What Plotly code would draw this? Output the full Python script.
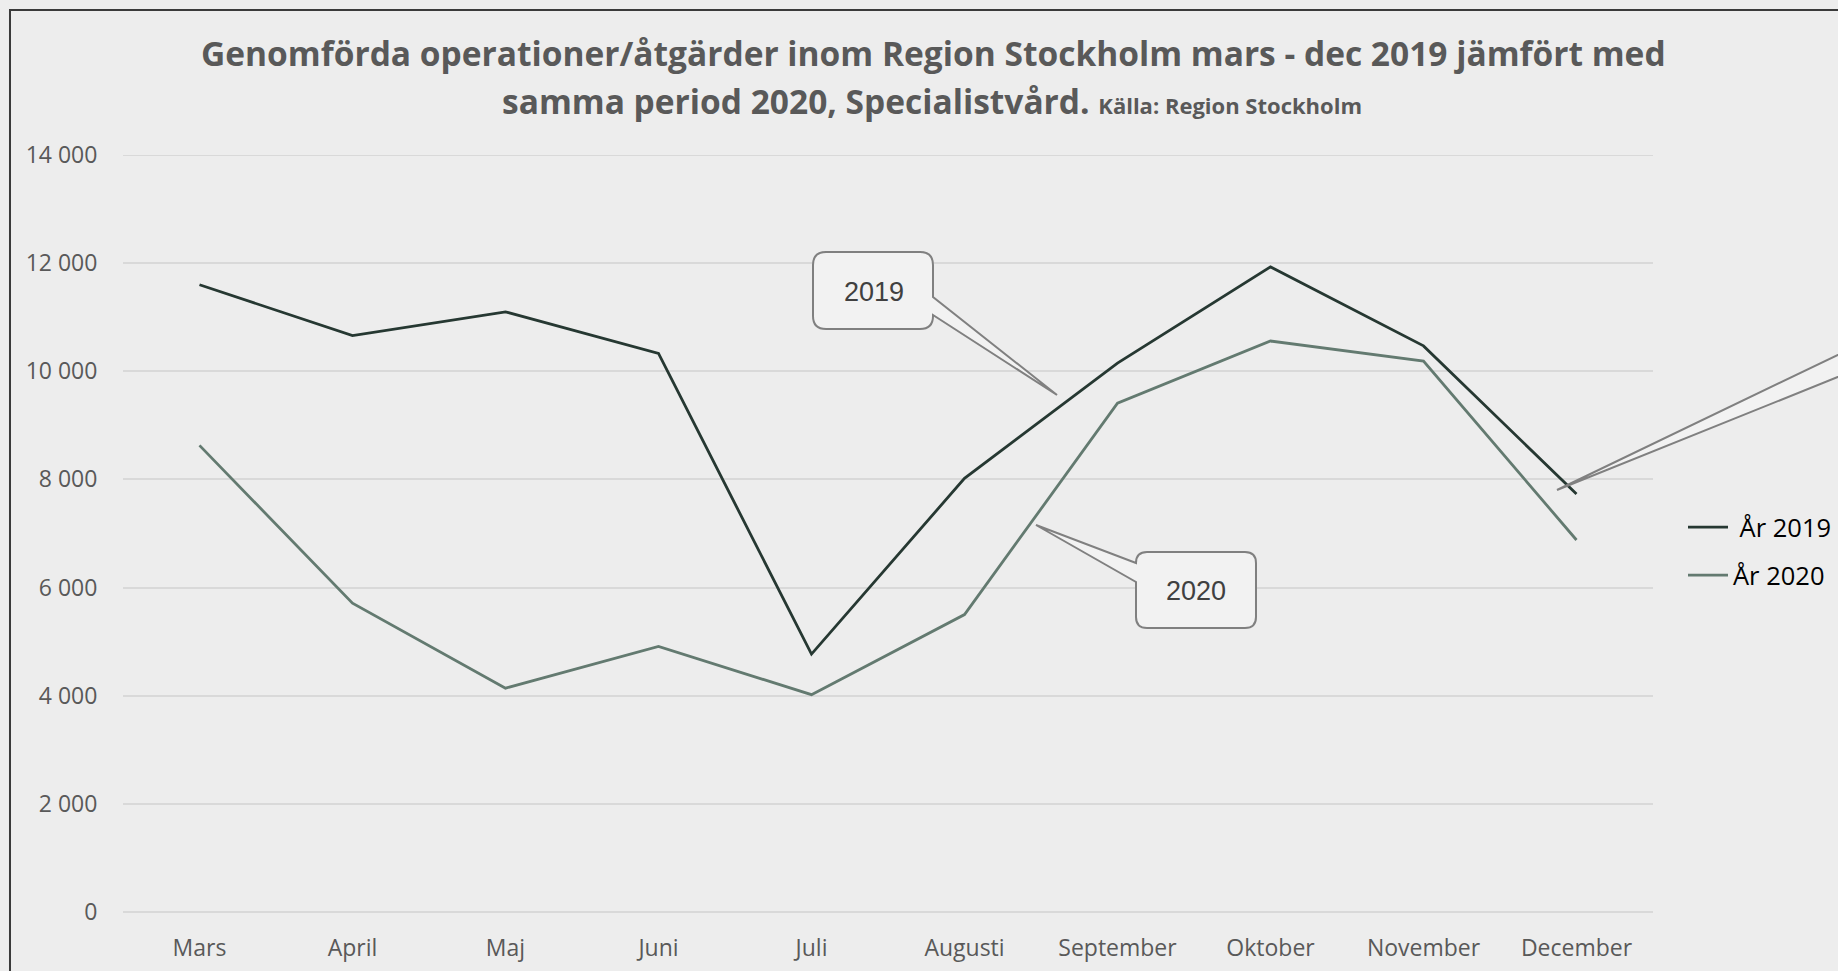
import plotly.graph_objects as go

# ---------------- data ----------------
months = ["Mars", "April", "Maj", "Juni", "Juli", "Augusti",
          "September", "Oktober", "November", "December"]
values_2019 = [11600, 10660, 11100, 10330, 4770, 8020, 10150, 11930, 10470, 7730]
values_2020 = [8630, 5710, 4140, 4910, 4020, 5500, 9410, 10560, 10190, 6880]
y_ticks = [0, 2000, 4000, 6000, 8000, 10000, 12000, 14000]
y_tick_text = ["0", "2 000", "4 000", "6 000", "8 000", "10 000", "12 000", "14 000"]

# ---------------- layout geometry ----------------
W, H = 1838, 971
L, R, T, B = 123, 185, 155, 59
PW = W - L - R
PH = H - T - B


def px(x):
    return (x - L) / PW


def py(y):
    return (H - B - y) / PH


def path(points_cmds):
    out = []
    for cmd in points_cmds:
        c = cmd[0]
        nums = cmd[1:]
        if c in ("M", "L"):
            out.append(f"{c} {px(nums[0]):.5f},{py(nums[1]):.5f}")
        elif c == "Q":
            out.append(f"Q {px(nums[0]):.5f},{py(nums[1]):.5f} {px(nums[2]):.5f},{py(nums[3]):.5f}")
        elif c == "Z":
            out.append("Z")
    return " ".join(out)


def callout_right_tail(x0, y0, x1, y1, r, ya, yb, tip):
    return path([
        ("M", x0 + r, y0), ("L", x1 - r, y0), ("Q", x1, y0, x1, y0 + r),
        ("L", x1, ya), ("L", tip[0], tip[1]), ("L", x1, yb),
        ("L", x1, y1 - r), ("Q", x1, y1, x1 - r, y1),
        ("L", x0 + r, y1), ("Q", x0, y1, x0, y1 - r),
        ("L", x0, y0 + r), ("Q", x0, y0, x0 + r, y0), ("Z",),
    ])


def callout_left_tail(x0, y0, x1, y1, r, ya, yb, tip):
    return path([
        ("M", x0 + r, y0), ("L", x1 - r, y0), ("Q", x1, y0, x1, y0 + r),
        ("L", x1, y1 - r), ("Q", x1, y1, x1 - r, y1),
        ("L", x0 + r, y1), ("Q", x0, y1, x0, y1 - r),
        ("L", x0, yb), ("L", tip[0], tip[1]), ("L", x0, ya),
        ("L", x0, y0 + r), ("Q", x0, y0, x0 + r, y0), ("Z",),
    ])


COL_2019 = "#263832"
COL_2020 = "#637a70"
BG = "#ededed"
GRID = "#d9d9d9"

fig = go.Figure()
fig.add_trace(go.Scatter(x=months, y=values_2019, mode="lines", name=" År 2019",
                         line=dict(color=COL_2019, width=2.8), legendgroup="a"))
fig.add_trace(go.Scatter(x=months, y=values_2020, mode="lines", name="År 2020",
                         line=dict(color=COL_2020, width=2.8), legendgroup="b"))

shapes = []
# top gridline (range edge)
shapes.append(dict(type="line", xref="paper", yref="y", x0=0, x1=1, y0=y_ticks[-1], y1=y_ticks[-1],
                   line=dict(color=GRID, width=2), layer="below"))
# outer frame (left and top edge visible)
shapes.append(dict(type="path", xref="paper", yref="paper",
                   path=path([("M", 10, 1000), ("L", 10, 10), ("L", 1900, 10)]),
                   line=dict(color="#3a3a3a", width=2), fillcolor="rgba(0,0,0,0)"))
# callout 2019
shapes.append(dict(type="path", xref="paper", yref="paper",
                   path=callout_right_tail(813, 252, 933, 329, 13, 297, 315, (1057, 395)),
                   line=dict(color="#808080", width=2), fillcolor="#f2f2f2"))
# callout 2020
shapes.append(dict(type="path", xref="paper", yref="paper",
                   path=callout_left_tail(1136, 552, 1256, 628, 11, 563, 582, (1036, 525)),
                   line=dict(color="#808080", width=2), fillcolor="#f2f2f2"))
# callout tail from December (box outside the picture)
shapes.append(dict(type="path", xref="paper", yref="paper",
                   path=path([("M", 1557, 490), ("L", 1900, 325), ("L", 1900, 352), ("Z",)]),
                   line=dict(color="#808080", width=2), fillcolor="#f2f2f2"))

annotations = [
    dict(xref="paper", yref="paper", x=px(933), y=py(53), xanchor="center", yanchor="middle",
         showarrow=False,
         text="<b>Genomförda operationer/åtgärder inom Region Stockholm mars - dec 2019 jämfört med</b>",
         font=dict(family="Open Sans", size=33.5, color="#595959")),
    dict(xref="paper", yref="paper", x=px(932), y=py(101), xanchor="center", yanchor="middle",
         showarrow=False,
         text="<b>samma period 2020, Specialistvård.</b> <span style='font-size:22px'><b>Källa: Region Stockholm</b></span>",
         font=dict(family="Open Sans", size=33.5, color="#595959")),
    dict(xref="paper", yref="paper", x=px(874), y=py(292), xanchor="center", yanchor="middle",
         showarrow=False, text="2019",
         font=dict(family="Liberation Sans", size=27, color="#404040")),
    dict(xref="paper", yref="paper", x=px(1196), y=py(591), xanchor="center", yanchor="middle",
         showarrow=False, text="2020",
         font=dict(family="Liberation Sans", size=27, color="#404040")),
]

fig.update_layout(
    width=W, height=H, autosize=False,
    margin=dict(l=L, r=R, t=T, b=B, pad=0, autoexpand=False),
    paper_bgcolor=BG, plot_bgcolor=BG,
    showlegend=True,
    legend=dict(x=px(1683), y=py(504), xanchor="left", yanchor="top",
                bgcolor="rgba(0,0,0,0)", font=dict(family="Open Sans", size=25.5, color="#000000"),
                tracegroupgap=12, itemwidth=40),
    shapes=shapes,
    annotations=annotations,
    xaxis=dict(type="category", range=[-0.5, 9.5], showgrid=False, showline=False,
               zeroline=False, ticks="outside", ticklen=15, tickcolor="rgba(0,0,0,0)",
               automargin=False,
               tickfont=dict(family="Open Sans", size=23, color="#595959"), fixedrange=True),
    yaxis=dict(range=[0, 14000], tickvals=y_ticks, ticktext=y_tick_text,
               showgrid=True, gridcolor=GRID, gridwidth=2,
               zeroline=True, zerolinecolor=GRID, zerolinewidth=2,
               showline=False, ticks="outside", ticklen=20, tickcolor="rgba(0,0,0,0)",
               automargin=False,
               tickfont=dict(family="Open Sans", size=23, color="#595959"), fixedrange=True),
)

fig.write_html("out.html", config={"displayModeBar": False},
               post_script="document.body.style.margin='0';document.body.style.overflow='hidden';")
